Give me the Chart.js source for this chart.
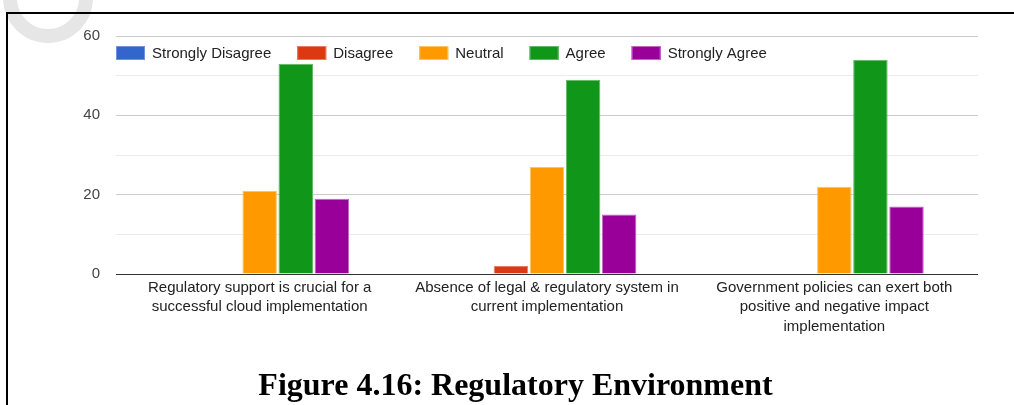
<!DOCTYPE html>
<html>
<head>
<meta charset="utf-8">
<script src="https://cdn.jsdelivr.net/npm/chart.js@4"></script>
<style>
  html, body { margin: 0; padding: 0; background: #fff; overflow: hidden; }
  body { width: 1014px; height: 405px; position: relative; }
  #mark { position: absolute; left: 0; top: 0; }
  #chartBox { position: absolute; left: 0; top: 0; width: 1014px; height: 346px; }
  #frame { position: absolute; left: 6px; top: 12px; width: 1040px; height: 420px;
           border-left: 2px solid #000; border-top: 2px solid #000; pointer-events: none; }
  #caption { position: absolute; left: 6px; width: 1019px; top: 366px; text-align: center;
             font: bold 32px "Liberation Serif", "Times New Roman", serif; color: #000; line-height: 36px; }
</style>
</head>
<body>
<svg id="mark" width="120" height="70" viewBox="0 0 120 70">
  <circle cx="48" cy="-2" r="38" fill="none" stroke="#e6e6e6" stroke-width="14"/>
</svg>
<div id="chartBox"><canvas id="c" width="1014" height="346"></canvas></div>
<div id="frame"></div>
<div id="caption">Figure 4.16: Regulatory Environment</div>
<script>
// Survey statements (x categories), one label line per array entry
const statements = [
  ["Regulatory support is crucial for a", "successful cloud implementation"],
  ["Absence of legal & regulatory system in", "current implementation"],
  ["Government policies can exert both", "positive and negative impact", "implementation"]
];

// Response counts per answer option
const responseLevels = ["Strongly Disagree", "Disagree", "Neutral", "Agree", "Strongly Agree"];
const stronglyDisagree = [0, 0, 0];
const disagree = [0, 2, 0];
const neutral = [21, 27, 22];
const agree = [53, 49, 54];
const stronglyAgree = [19, 15, 17];

// Y axis ticks
const yTicks = [0, 10, 20, 30, 40, 50, 60];
const yLabelled = [0, 20, 40, 60];

const fills = ["#3366cc", "#dc3912", "#ff9900", "#109618", "#990099"];
const edges = ["#7094db", "#e87a62", "#ffc266", "#5fb865", "#c266c2"];
const series = [stronglyDisagree, disagree, neutral, agree, stronglyAgree];

const FONT = "Arial, 'Liberation Sans', sans-serif";

// Legend row drawn inside the plot area, between the top grid lines
const insideLegend = {
  id: 'insideLegend',
  afterDraw(chart) {
    const ctx = chart.ctx;
    ctx.save();
    ctx.font = "15px " + FONT;
    ctx.textBaseline = 'middle';
    ctx.textAlign = 'left';
    let x = 116;
    const yTop = 46, boxW = 29, boxH = 14, gap = 7, spacing = 26;
    chart.data.datasets.forEach(ds => {
      ctx.fillStyle = ds.backgroundColor;
      ctx.fillRect(x, yTop, boxW, boxH);
      ctx.strokeStyle = ds.borderColor;
      ctx.lineWidth = 1;
      ctx.strokeRect(x + 0.5, yTop + 0.5, boxW - 1, boxH - 1);
      ctx.fillStyle = '#222';
      const tx = x + boxW + gap;
      ctx.fillText(ds.label, tx, yTop + boxH / 2 + 0.5);
      x = tx + ctx.measureText(ds.label).width + spacing;
    });
    ctx.restore();
  }
};

new Chart(document.getElementById('c'), {
  type: 'bar',
  data: {
    labels: statements,
    datasets: responseLevels.map((name, i) => ({
      label: name,
      data: series[i],
      backgroundColor: fills[i],
      borderColor: edges[i],
      borderWidth: 1,
      borderSkipped: 'bottom',
      categoryPercentage: 0.628,
      barPercentage: 0.955
    }))
  },
  options: {
    responsive: false,
    animation: false,
    devicePixelRatio: 1,
    layout: { padding: { top: 36, right: 36, left: 0, bottom: 0 } },
    plugins: {
      legend: { display: false },
      tooltip: { enabled: false },
      title: { display: false }
    },
    scales: {
      x: {
        grid: { display: false, drawTicks: false },
        border: { display: false },
        ticks: {
          color: '#222',
          font: { family: FONT, size: 15, lineHeight: 1.3 },
          padding: 4,
          maxRotation: 0,
          autoSkip: false
        },
        afterFit(scale) { scale.height = 72; }
      },
      y: {
        min: 0,
        max: 60,
        afterBuildTicks(scale) { scale.ticks = yTicks.map(v => ({ value: v })); },
        grid: {
          drawTicks: false,
          color(ctx) {
            const v = ctx.tick ? ctx.tick.value : 0;
            if (v === 0) return '#333333';
            return v % 20 === 0 ? '#cccccc' : '#ebebeb';
          },
          lineWidth: 1
        },
        border: { display: false },
        ticks: {
          color: '#444',
          font: { family: FONT, size: 15 },
          padding: 16,
          callback: v => (yLabelled.includes(v) ? String(v) : '')
        },
        afterFit(scale) { scale.width = 116; }
      }
    }
  },
  plugins: [insideLegend]
});
</script>
</body>
</html>
